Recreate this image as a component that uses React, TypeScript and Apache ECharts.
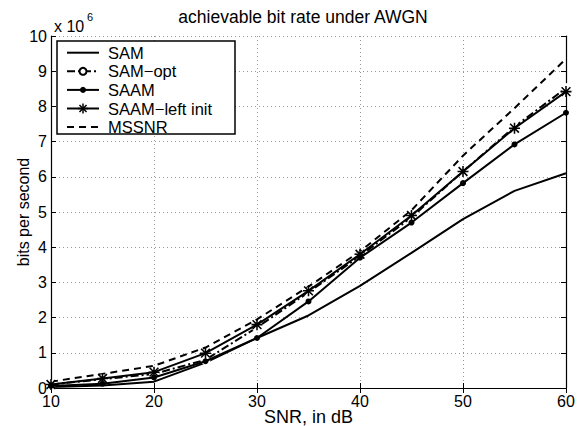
import React, { useEffect, useRef } from "react";
import * as echarts from "echarts";

const snr = [10, 15, 20, 25, 30, 35, 40, 45, 50, 55, 60];
const samValues = [0.03, 0.07, 0.18, 0.72, 1.42, 2.06, 2.9, 3.84, 4.8, 5.6, 6.1];
const samOptValues = [0.1, 0.25, 0.4, 0.8, 1.72, 2.72, 3.75, 4.85, 6.15, 7.42, 8.52];
const saamValues = [0.06, 0.12, 0.3, 0.76, 1.42, 2.46, 3.7, 4.7, 5.82, 6.92, 7.82];
const saamLeftValues = [0.1, 0.27, 0.45, 0.99, 1.8, 2.76, 3.8, 4.9, 6.15, 7.38, 8.42];
const mssnrValues = [0.18, 0.4, 0.63, 1.15, 1.95, 2.88, 3.88, 5.05, 6.6, 7.95, 9.35];
const seriesNames = ["SAM", "SAM\u2212opt", "SAAM", "SAAM\u2212left init", "MSSNR"];

const FONT = "'Liberation Sans', Arial, Helvetica, sans-serif";
const ASTERISK =
  "path://M4.3,0L5.7,0L5.7,10L4.3,10Z M0,4.3L10,4.3L10,5.7L0,5.7Z M0.5,1.5L1.5,0.5L9.5,8.5L8.5,9.5Z M8.5,0.5L9.5,1.5L1.5,9.5L0.5,8.5Z";

const DASH_DOT = [8, 3, 2, 3];
const DASHED = [7, 5];

const pairs = (ys: number[]) => snr.map((x, i) => [x, ys[i]]);

function legendGraphics() {
  const left = 57;
  const top = 41;
  const els: any[] = [
    {
      type: "rect",
      z: 100,
      shape: { x: left, y: top, width: 178, height: 93 },
      style: { fill: "#fff", stroke: "#000", lineWidth: 1.5 },
    },
  ];
  const dashes: (number[] | null)[] = [null, DASH_DOT, null, null, DASHED];
  seriesNames.forEach((name, i) => {
    const y = top + 11.7 + i * 18.6;
    els.push({
      type: "line",
      z: 101,
      shape: { x1: 67, y1: y, x2: 99, y2: y },
      style: { stroke: "#000", lineWidth: 2, lineDash: dashes[i] || undefined },
    });
    if (i === 1) {
      els.push({ type: "circle", z: 102, shape: { cx: 83, cy: y, r: 3.5 }, style: { fill: "#fff", stroke: "#000", lineWidth: 2 } });
    } else if (i === 2) {
      els.push({ type: "circle", z: 102, shape: { cx: 83, cy: y, r: 3 }, style: { fill: "#000" } });
    } else if (i === 3) {
      const r = 5;
      [0, 45, 90, 135].forEach((deg) => {
        const a = (deg * Math.PI) / 180;
        els.push({
          type: "line",
          z: 102,
          shape: { x1: 83 - r * Math.cos(a), y1: y - r * Math.sin(a), x2: 83 + r * Math.cos(a), y2: y + r * Math.sin(a) },
          style: { stroke: "#000", lineWidth: 1.5 },
        });
      });
    }
    els.push({
      type: "text",
      z: 102,
      x: 108,
      y: y,
      style: { text: name, fill: "#000", font: `16.5px ${FONT}`, textVerticalAlign: "middle" },
    });
  });
  return els;
}

export default function App() {
  const ref = useRef<HTMLDivElement>(null);
  useEffect(() => {
    if (!ref.current) return;
    const chart = echarts.init(ref.current, undefined, { renderer: "svg" });
    const baseLine = { color: "#000", width: 2 };
    chart.setOption({
      animation: false,
      backgroundColor: "#fff",
      textStyle: { fontFamily: FONT },
      grid: { left: 51, right: 11, top: 36, bottom: 38, containLabel: false, outerBoundsMode: "none" },
      xAxis: [
        {
          type: "value",
          min: 10,
          max: 60,
          interval: 10,
          name: "SNR, in dB",
          nameLocation: "middle",
          nameGap: 22,
          nameMoveOverlap: false,
          nameTextStyle: { fontSize: 18, lineHeight: 14, color: "#000", fontFamily: FONT },
          axisLine: { lineStyle: { color: "#000", width: 1.2 } },
          axisTick: { inside: true, length: 5, lineStyle: { color: "#000" } },
          axisLabel: { fontSize: 16, lineHeight: 12, color: "#000", margin: 7.5, fontFamily: FONT },
          splitLine: { show: true, lineStyle: { color: "#999", type: [1, 3], width: 1 } },
        },
        {
          type: "value",
          position: "top",
          min: 10,
          max: 60,
          interval: 10,
          axisLine: { lineStyle: { color: "#000", width: 1.2 } },
          axisTick: { inside: true, length: 5, lineStyle: { color: "#000" } },
          axisLabel: { show: false },
          splitLine: { show: false },
        },
      ],
      yAxis: [
        {
          type: "value",
          min: 0,
          max: 10,
          interval: 1,
          axisLine: { show: true, lineStyle: { color: "#000", width: 1.2 } },
          axisTick: { show: true, inside: true, length: 5, lineStyle: { color: "#000" } },
          axisLabel: { fontSize: 16, lineHeight: 12, color: "#000", margin: 4, fontFamily: FONT },
          splitLine: { show: true, lineStyle: { color: "#999", type: [1, 3], width: 1 } },
        },
        {
          type: "value",
          position: "right",
          min: 0,
          max: 10,
          interval: 1,
          axisLine: { show: true, lineStyle: { color: "#000", width: 1.2 } },
          axisTick: { show: true, inside: true, length: 5, lineStyle: { color: "#000" } },
          axisLabel: { show: false },
          splitLine: { show: false },
        },
      ],
      graphic: [
        {
          type: "text",
          x: 303,
          y: 17,
          style: {
            text: "achievable bit rate under AWGN",
            fill: "#000",
            font: `17.5px ${FONT}`,
            textAlign: "center",
            textVerticalAlign: "middle",
          },
        },
        {
          type: "text",
          x: 54,
          y: 26,
          style: { text: "x 10", fill: "#000", font: `16px ${FONT}`, textVerticalAlign: "middle" },
        },
        {
          type: "text",
          x: 87,
          y: 17,
          style: { text: "6", fill: "#000", font: `11px ${FONT}`, textVerticalAlign: "middle" },
        },
        {
          type: "text",
          x: 23,
          y: 212,
          rotation: Math.PI / 2,
          style: {
            text: "bits per second",
            fill: "#000",
            font: `16px ${FONT}`,
            textAlign: "center",
            textVerticalAlign: "middle",
          },
        },
        ...legendGraphics(),
      ],
      series: [
        {
          name: seriesNames[0],
          type: "line",
          data: pairs(samValues),
          symbol: "none",
          lineStyle: { ...baseLine },
          itemStyle: { color: "#000" },
          z: 3,
        },
        {
          name: seriesNames[1],
          type: "line",
          data: pairs(samOptValues),
          symbol: "emptyCircle",
          symbolSize: 8,
          lineStyle: { ...baseLine, type: DASH_DOT },
          itemStyle: { color: "#fff", borderColor: "#000", borderWidth: 2 },
          z: 4,
        },
        {
          name: seriesNames[2],
          type: "line",
          data: pairs(saamValues),
          symbol: "circle",
          symbolSize: 6,
          lineStyle: { ...baseLine },
          itemStyle: { color: "#000" },
          z: 5,
        },
        {
          name: seriesNames[3],
          type: "line",
          data: pairs(saamLeftValues),
          symbol: ASTERISK,
          symbolSize: 11,
          lineStyle: { ...baseLine },
          itemStyle: { color: "#000" },
          z: 6,
        },
        {
          name: seriesNames[4],
          type: "line",
          data: pairs(mssnrValues),
          symbol: "none",
          lineStyle: { ...baseLine, type: DASHED },
          itemStyle: { color: "#000" },
          z: 2,
        },
      ],
    });
    return () => chart.dispose();
  }, []);
  return <div ref={ref} style={{ width: 577, height: 426, position: "absolute", left: 0, top: 0 }} />;
}
